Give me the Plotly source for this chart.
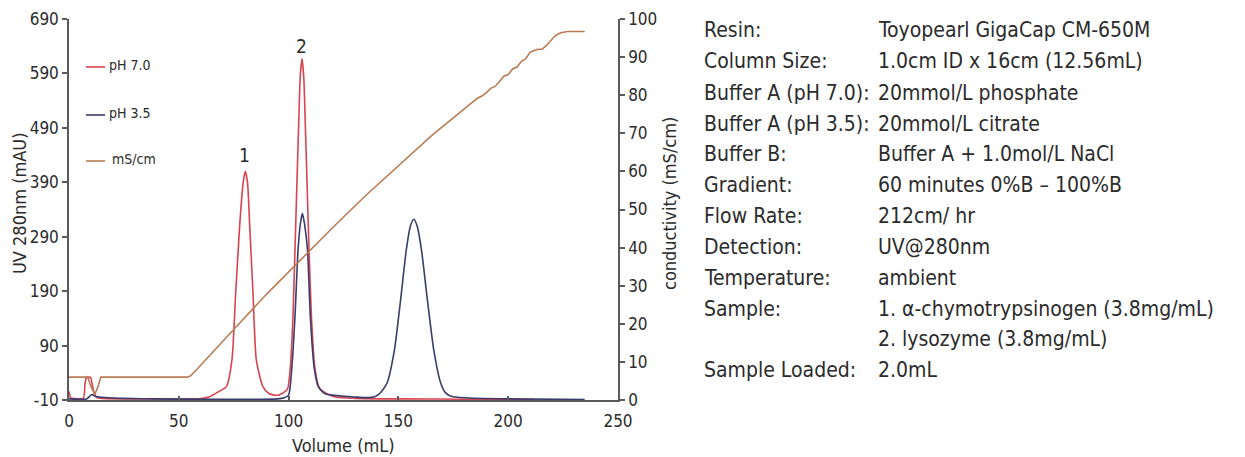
import plotly.graph_objects as go

# ---------------- data ----------------
# pH 7.0 (red) UV trace
red_vol = [0, 0.8, 2, 6.5, 7.3, 7.8, 8.5, 9.2, 9.8, 10.6, 11.4, 12.5, 15, 40, 60, 64, 68,
           71.7, 74.2, 75.9, 77.7, 79.3, 80.3, 81.3, 82.3, 83.8, 85.3, 88.3, 91, 93.5, 95.5,
           97.5, 99.5, 100.8, 102.0, 102.9, 103.8, 104.7, 105.3, 106.1, 106.9, 107.5, 108.4,
           109.3, 110.4, 111.9, 114, 117.2, 122, 130, 150, 180, 212]
red_uv = [6, -6, -7, -7, 20, 30, 33, 31, 32, 18, 3, -5, -7, -8, -7.5, -4, 5,
          14.5, 63.6, 186, 309, 389, 410, 389, 309, 186, 63.6, 14.5, 2, -1, -1,
          3, 10, 51, 143, 266, 389, 511, 584, 617, 584, 511, 389,
          266, 143, 51, 12, 2, -5, -7, -8, -8.5, -9]

# pH 3.5 (navy) UV trace
blue_vol = [0, 8, 9.5, 10.5, 11.5, 13, 18, 25, 40, 95, 98, 100, 101.5, 102.9, 104.3, 105.3,
            106.3, 107.3, 108.6, 109.9, 111.6, 113.5, 115.5, 117, 120, 125, 130, 135.4,
            139.2, 141.5, 144.8, 148.2, 151, 153.6, 155.5, 157, 158.5, 160.5, 163.2, 166.1,
            169.3, 171.5, 174, 180, 200, 234.8]
blue_uv = [-8, -8, -3, 0, -2, -4, -6, -7, -8, -8, -6, -1, 51, 143, 266, 312,
           333, 312, 266, 143, 51, 15, 5, 1, -1, -3, -4.5, -5.7,
           -4, 2, 20.7, 82, 174, 266, 310, 322, 310, 266, 174, 82,
           20.7, 3, -3, -6, -8, -9]

# conductivity (brown) trace
cond_vol = [0, 8.5, 10, 11.8, 13.2, 14.5, 54, 55.5, 57, 60, 75, 90, 105, 120, 135, 150, 165,
            182.5, 186, 188, 190, 192, 194, 196, 198, 200, 202, 204, 206, 208, 210, 213,
            215.5, 218, 221, 222.5, 224, 227, 234.8]
cond_ms = [6, 6, 3.5, 1.5, 3.5, 6, 6, 6.4, 7.3, 9.2, 18.5, 27.8, 36.6, 45.2, 53.6, 61.4, 69.3,
           77.6, 79.2, 79.8, 80.6, 81.8, 82.3, 83.6, 85.0, 85.4, 86.9, 87.4, 88.9, 89.6, 91.3, 92.0,
           92.1, 93.4, 95.4, 96.0, 96.4, 96.7, 96.7]

x_ticks = [0, 50, 100, 150, 200, 250]
uv_ticks = [-10, 90, 190, 290, 390, 490, 590, 690]
uv_tick_text = ["-10", "90", "190", "290", "390", "490", "590", "690"]
cond_ticks = [0, 10, 20, 30, 40, 50, 60, 70, 80, 90, 100]

x_title = "Volume (mL)"
y_title = "UV 280nm (mAU)"
y2_title = "conductivity (mS/cm)"

legend_names = ["pH 7.0", "pH 3.5", "mS/cm"]
peak_labels = ["1", "2"]
peak_label_vol = [80, 106]
peak_label_uv = [441, 640]

info_labels = ["Resin:", "Column Size:", "Buffer A (pH 7.0):", "Buffer A (pH 3.5):", "Buffer B:",
               "Gradient:", "Flow Rate:", "Detection:", "Temperature:", "Sample:", "", "Sample Loaded:"]
info_values = ["Toyopearl GigaCap CM-650M", "1.0cm ID x 16cm (12.56mL)", "20mmol/L phosphate",
               "20mmol/L citrate", "Buffer A + 1.0mol/L NaCl", "60 minutes 0%B \u2013 100%B",
               "212cm/ hr", "UV@280nm", "ambient", "1. \u03b1-chymotrypsinogen (3.8mg/mL)",
               "2. lysozyme (3.8mg/mL)", "2.0mL"]

# ---------------- styling ----------------
RED = "#d9434f"
NAVY = "#3a3d6c"
BROWN = "#b97c55"
AXIS = "#5a5a5a"
TXT = "#2b2b2b"
FONT = "Liberation Sans Narrow, Arial Narrow, DejaVu Sans Condensed, sans-serif"

W, H = 1245, 457
L, R, T, B = 69, 618, 19, 400  # plot area pixel bounds


def px(x):
    return (x - L) / (R - L)


def py(y):
    return (B - y) / (B - T)


fig = go.Figure()
fig.add_trace(go.Scatter(x=red_vol, y=red_uv, mode="lines", name=legend_names[0],
                         line=dict(color=RED, width=1.6, shape="spline", smoothing=0.6)))
fig.add_trace(go.Scatter(x=blue_vol, y=blue_uv, mode="lines", name=legend_names[1],
                         line=dict(color=NAVY, width=1.6, shape="spline", smoothing=0.6)))
fig.add_trace(go.Scatter(x=cond_vol, y=cond_ms, mode="lines", name=legend_names[2], yaxis="y2",
                         line=dict(color=BROWN, width=1.6, shape="linear")))

annotations = []
for lab, xv, yv in zip(peak_labels, peak_label_vol, peak_label_uv):
    annotations.append(dict(x=xv, y=yv, xref="x", yref="y", text=lab, showarrow=False,
                            font=dict(family=FONT, size=19, color=TXT)))

# axis titles
annotations.append(dict(x=px(343.5), y=py(445), xref="paper", yref="paper", text=x_title,
                        showarrow=False, xanchor="center", yanchor="middle",
                        font=dict(family=FONT, size=18, color=TXT)))
annotations.append(dict(x=px(19), y=py(203), xref="paper", yref="paper", text=y_title,
                        showarrow=False, xanchor="center", yanchor="middle", textangle=-90,
                        font=dict(family=FONT, size=18, color=TXT)))
annotations.append(dict(x=px(670), y=py(204), xref="paper", yref="paper", text=y2_title,
                        showarrow=False, xanchor="center", yanchor="middle", textangle=-90,
                        font=dict(family=FONT, size=18, color=TXT)))

# custom legend
leg_y = [66, 114, 160]
leg_colors = [RED, NAVY, BROWN]
leg_text_x = [107, 107, 110]
shapes = []
for name, yy, col, tx in zip(legend_names, leg_y, leg_colors, leg_text_x):
    shapes.append(dict(type="line", xref="paper", yref="paper", x0=px(86), x1=px(105),
                       y0=py(yy + 1), y1=py(yy + 1), line=dict(color=col, width=1.6)))
    annotations.append(dict(x=px(tx), y=py(yy - 1), xref="paper", yref="paper", text=name,
                            showarrow=False, xanchor="left", yanchor="middle",
                            font=dict(family=FONT, size=14, color=TXT)))

# info text block
row_y = [30, 61, 92.5, 123.5, 154, 185, 216, 247, 277.5, 308.5, 339, 370]
for lab, val, yy in zip(info_labels, info_values, row_y):
    if lab:
        annotations.append(dict(x=px(702), y=py(yy), xref="paper", yref="paper", text=lab,
                                showarrow=False, xanchor="left", yanchor="middle",
                                font=dict(family=FONT, size=21, color=TXT)))
    annotations.append(dict(x=px(876), y=py(yy), xref="paper", yref="paper", text=val,
                            showarrow=False, xanchor="left", yanchor="middle",
                            font=dict(family=FONT, size=21, color=TXT)))

axis_common = dict(showgrid=False, zeroline=False, showline=True, linecolor=AXIS, linewidth=1.5,
                   tickcolor=AXIS, tickwidth=1.5, automargin=False,
                   tickfont=dict(family=FONT, size=17, color=TXT))

fig.update_layout(
    width=W, height=H,
    margin=dict(l=L, r=W - R, t=T, b=H - B, autoexpand=False),
    paper_bgcolor="white", plot_bgcolor="white",
    showlegend=False,
    xaxis=dict(range=[0, 250], tickvals=x_ticks, ticks="inside", ticklen=4, ticklabelstandoff=5,
               **axis_common),
    yaxis=dict(range=[-10, 690], tickvals=uv_ticks, ticktext=uv_tick_text, ticks="outside", ticklen=5,
               **axis_common),
    yaxis2=dict(range=[0, 100], tickvals=cond_ticks, ticks="outside", ticklen=5, overlaying="y",
                side="right", anchor="x", **axis_common),
    annotations=annotations,
    shapes=shapes,
)

fig.write_html("out.html")
